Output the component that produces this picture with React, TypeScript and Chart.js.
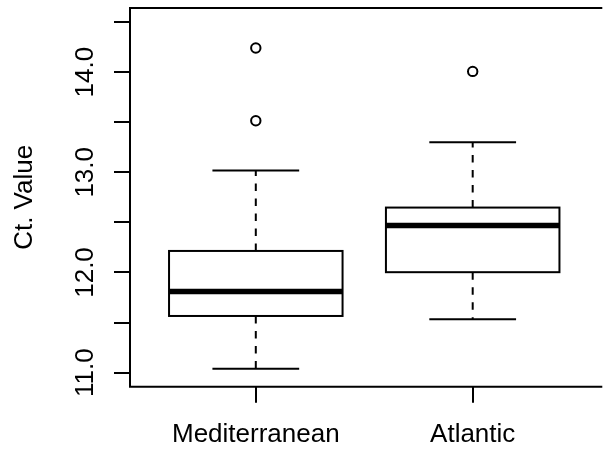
import React, { useEffect, useRef } from "react";
import { Chart, registerables } from "chart.js";

Chart.register(...registerables);

// ---- data ----
const categories = ["Mediterranean", "Atlantic"];
const whiskerLow = [11.04, 11.533];
const q1 = [11.566, 12.003];
const median = [11.809, 12.468];
const q3 = [12.215, 12.648];
const whiskerHigh = [13.018, 13.301];
const outliers = [[14.24, 13.514], [14.007]];
const yTickValues = [11, 11.5, 12, 12.5, 13, 13.5, 14, 14.5];
const yLabelValues = [11, 12, 13, 14];
const yTickLabels = ["11.0", "12.0", "13.0", "14.0"];
const yLimits = [10.86, 14.64];
const xLimits = [0.42, 2.5745];
const yTitle = "Ct. Value";

const FONT = "'Liberation Sans', Arial, Helvetica, sans-serif";
const FONT_SIZE = 26;

const boxPlugin = {
  id: "rBoxplot",
  afterDatasetsDraw(chart: any) {
    const { ctx, scales } = chart;
    const x = scales.x;
    const y = scales.y;
    ctx.save();
    ctx.strokeStyle = "#000";
    ctx.lineCap = "butt";
    const seg = (x1: number, y1: number, x2: number, y2: number) => {
      ctx.beginPath();
      ctx.moveTo(x1, y1);
      ctx.lineTo(x2, y2);
      ctx.stroke();
    };
    categories.forEach((_, i) => {
      const cx = x.getPixelForValue(i + 1);
      const hw = x.getPixelForValue(i + 1 + 0.4) - cx;
      const cw = hw / 2;
      const pLo = y.getPixelForValue(whiskerLow[i]);
      const pQ1 = y.getPixelForValue(q1[i]);
      const pMed = y.getPixelForValue(median[i]);
      const pQ3 = y.getPixelForValue(q3[i]);
      const pHi = y.getPixelForValue(whiskerHigh[i]);
      ctx.lineWidth = 2;
      ctx.setLineDash([7.5, 7.5]);
      seg(cx, pQ1, cx, pLo);
      seg(cx, pQ3, cx, pHi);
      ctx.setLineDash([]);
      seg(cx - cw, pLo, cx + cw, pLo);
      seg(cx - cw, pHi, cx + cw, pHi);
      ctx.fillStyle = "#fff";
      ctx.fillRect(cx - hw, pQ3, 2 * hw, pQ1 - pQ3);
      ctx.strokeRect(cx - hw, pQ3, 2 * hw, pQ1 - pQ3);
      ctx.lineWidth = 5.5;
      seg(cx - hw, pMed, cx + hw, pMed);
    });
    ctx.restore();
  },
  afterDraw(chart: any) {
    const { ctx, chartArea, scales } = chart;
    const y = scales.y;
    ctx.save();
    ctx.strokeStyle = "#000";
    ctx.lineWidth = 2;
    ctx.beginPath();
    ctx.moveTo(chartArea.right + 5, chartArea.top);
    ctx.lineTo(chartArea.left, chartArea.top);
    ctx.lineTo(chartArea.left, chartArea.bottom);
    ctx.lineTo(chartArea.right + 5, chartArea.bottom);
    ctx.stroke();

    ctx.fillStyle = "#000";
    ctx.font = `${FONT_SIZE}px ${FONT}`;
    ctx.textAlign = "center";
    ctx.textBaseline = "alphabetic";
    yLabelValues.forEach((v, i) => {
      const py = y.getPixelForValue(v);
      ctx.save();
      ctx.translate(92.5, py);
      ctx.rotate(-Math.PI / 2);
      ctx.fillText(yTickLabels[i], 0, 0);
      ctx.restore();
    });
    ctx.save();
    ctx.translate(32, (chartArea.top + chartArea.bottom) / 2);
    ctx.rotate(-Math.PI / 2);
    ctx.fillText(yTitle, 0, 0);
    ctx.restore();
    ctx.restore();
  },
};

export default function App() {
  const ref = useRef<HTMLCanvasElement | null>(null);
  useEffect(() => {
    document.body.style.margin = "0";
    document.body.style.overflow = "hidden";
    const canvas = ref.current;
    if (!canvas) return;
    const points = outliers.flatMap((vals, i) => vals.map((v) => ({ x: i + 1, y: v })));
    const chart = new Chart(canvas, {
      type: "scatter",
      data: {
        datasets: [
          {
            data: points,
            pointRadius: 4.7,
            pointBorderWidth: 2,
            pointBackgroundColor: "rgba(0,0,0,0)",
            pointBorderColor: "#000",
            pointHoverRadius: 4.7,
          },
        ],
      },
      options: {
        responsive: false,
        animation: false,
        events: [],
        layout: { padding: { top: 8, left: 0, right: 0, bottom: 0 } },
        plugins: { legend: { display: false }, tooltip: { enabled: false } },
        scales: {
          x: {
            type: "linear",
            min: xLimits[0],
            max: xLimits[1],
            afterBuildTicks: (s: any) => {
              s.ticks = categories.map((_, i) => ({ value: i + 1 }));
            },
            afterFit: (s: any) => {
              s.height = 63.3;
            },
            ticks: {
              callback: (v: any) => categories[Math.round(v) - 1] ?? "",
              font: { family: FONT, size: FONT_SIZE },
              color: "#000",
              padding: 17,
              maxRotation: 0,
              minRotation: 0,
              autoSkip: false,
            },
            grid: { drawOnChartArea: false, drawTicks: true, tickLength: 16, color: "#000", lineWidth: 2 },
            border: { display: false },
          },
          y: {
            type: "linear",
            min: yLimits[0],
            max: yLimits[1],
            afterBuildTicks: (s: any) => {
              s.ticks = yTickValues.map((v) => ({ value: v }));
            },
            afterFit: (s: any) => {
              s.width = 130;
            },
            ticks: { display: false },
            grid: { drawOnChartArea: false, drawTicks: true, tickLength: 16, color: "#000", lineWidth: 2 },
            border: { display: false },
          },
        },
      },
      plugins: [boxPlugin],
    } as any);
    return () => chart.destroy();
  }, []);
  return (
    <div style={{ position: "fixed", left: 0, top: 0, width: 604, height: 450, background: "#fff" }}>
      <canvas ref={ref} width={604} height={450} style={{ width: 604, height: 450, display: "block" }} />
    </div>
  );
}
